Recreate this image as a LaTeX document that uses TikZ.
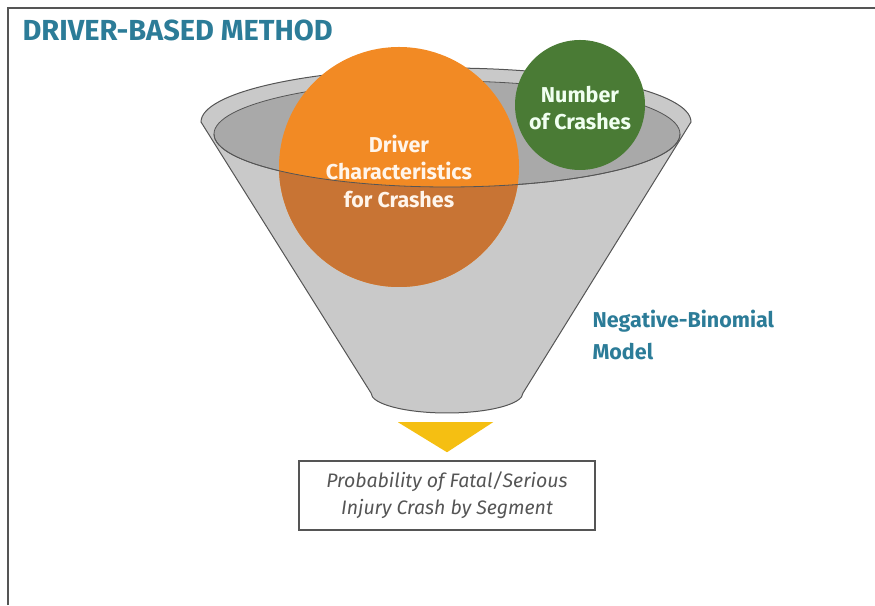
\documentclass[tikz,border=0pt]{standalone}
\usepackage{fontspec}
\setmainfont{Fira Sans}
\definecolor{titleblue}{HTML}{2C7C98}
\definecolor{funnelgray}{HTML}{C9C9C9}
\definecolor{mouthgray}{HTML}{A9A9A9}
\definecolor{edgegray}{HTML}{555555}
\definecolor{driverorange}{HTML}{F28A24}
\definecolor{driverdark}{HTML}{C87434}
\definecolor{crashgreen}{HTML}{4A7B35}
\definecolor{arrowgold}{HTML}{F5BF12}
\tikzset{every node/.style={font=\bfseries},
  bubble/.style={circle,inner sep=0pt},
  bubbletext/.style={align=center,font=\fontsize{21.5}{27.5}\selectfont\bfseries},
  outbox/.style={draw=edgegray,line width=1.5pt,minimum width=296pt,minimum height=69pt,
    align=center,text=edgegray,font=\fontsize{19.5}{27}\selectfont\itshape}}

\begin{document}
\begin{tikzpicture}[x=1pt,y=1pt]
\useasboundingbox (0,0) rectangle (875,605);
\draw[edgegray,line width=1.5pt] (8,0) -- (8,597) -- (875,597);
\node[anchor=base west,text=titleblue,font=\fontsize{29}{34}\selectfont\bfseries] (title) at (19,564) {DRIVER-BASED METHOD};
% funnel
\filldraw[fill=funnelgray,draw=edgegray,line width=1pt]
(201,483) -- (371,212) arc[start angle=180,end angle=360,x radius=76,y radius=20]
-- (691,483) arc[start angle=0,end angle=180,x radius=245,y radius=54] -- cycle;
\filldraw[fill=mouthgray,draw=edgegray,line width=0.8pt] (447,471) ellipse [x radius=233,y radius=53];
% inputs
\node[bubble,fill=driverorange,minimum size=240pt] (driver) at (399,438) {};
\begin{scope}
\clip (214,471) arc[start angle=180,end angle=360,x radius=233,y radius=53] -- (680,150) -- (214,150) -- cycle;
\fill[driverdark] (driver.center) circle (120pt);
\end{scope}
\draw[edgegray,line width=0.8pt] (214,471) arc[start angle=180,end angle=360,x radius=233,y radius=53];
\node[bubbletext,text=orange!8] (drivertext) at (399,434) {Driver\\Characteristics\\for Crashes};
\node[bubble,fill=crashgreen,minimum size=130pt] (crashes) at (580,500) {};
\node[bubbletext,text=green!6] (crashestext) at (580,497) {Number\\of Crashes};
\node[anchor=west,align=left,text=titleblue,font=\fontsize{21.5}{32}\selectfont\bfseries] (model) at (589,270) {Negative-Binomial\\Model};
% output
\node[outbox] (result) at (447,109.5) {Probability of Fatal/Serious\\Injury Crash by Segment};
\fill[arrowgold] ([xshift=-49pt,yshift=38pt]result.north) -- ([xshift=46pt,yshift=38pt]result.north) -- ([yshift=8pt]result.north) -- cycle;
\end{tikzpicture}
\end{document}
